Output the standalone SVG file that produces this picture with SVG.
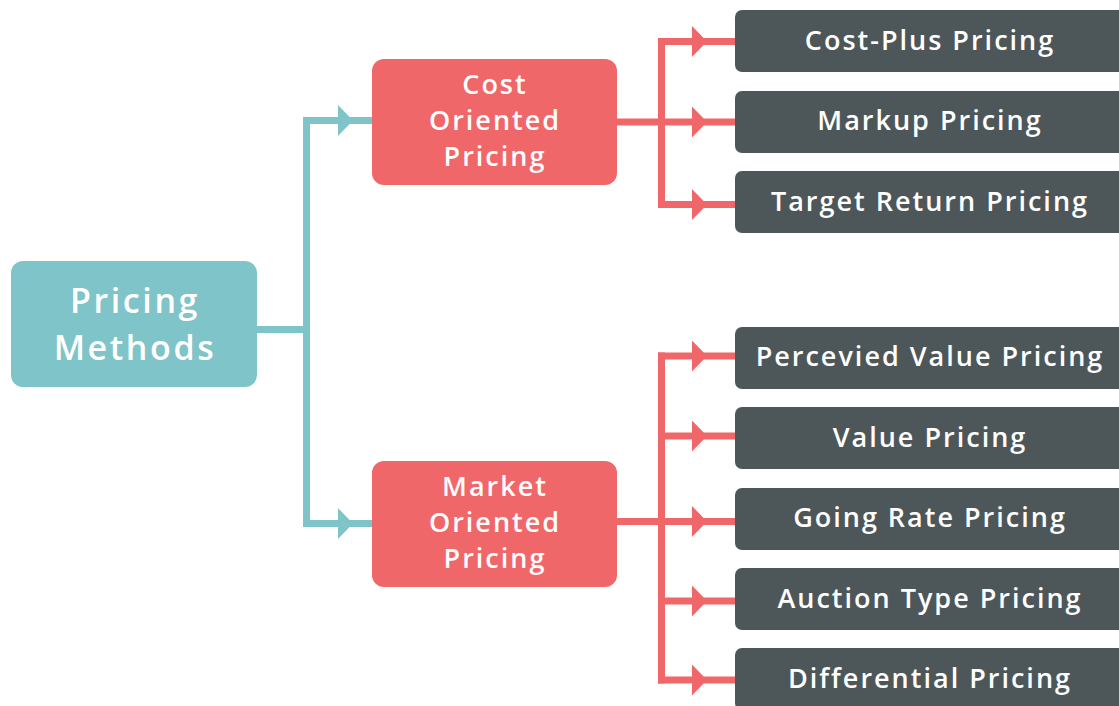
<svg xmlns="http://www.w3.org/2000/svg" width="1119" height="706" viewBox="0 0 1119 706">
  <defs>
    <style>
      .root { fill: #7fc4c9; }
      .group { fill: #f0676a; }
      .leaf { fill: #4d5759; }
      .label { fill: #ffffff; font-family: "Open Sans", "Liberation Sans", sans-serif; font-weight: 600; text-anchor: middle; }
      .big { font-size: 34px; letter-spacing: 2.6px; }
      .mid { font-size: 27px; letter-spacing: 2px; }
      .teal-line { stroke: #7fc4c9; stroke-width: 7; fill: none; }
      .red-line { stroke: #f0676a; stroke-width: 7; fill: none; }
      .teal-arrow { marker-mid: url(#arrowTeal); }
      .red-arrow { marker-mid: url(#arrowRed); }
    </style>
    <marker id="arrowTeal" markerUnits="userSpaceOnUse" markerWidth="16" markerHeight="32" refX="15" refY="15.5" orient="auto" viewBox="0 0 16 32">
      <path d="M0 0 L15 15.5 L0 31 Z" fill="#7fc4c9"/>
    </marker>
    <marker id="arrowRed" markerUnits="userSpaceOnUse" markerWidth="16" markerHeight="32" refX="15" refY="15.5" orient="auto" viewBox="0 0 16 32">
      <path d="M0 0 L15 15.5 L0 31 Z" fill="#f0676a"/>
    </marker>
  </defs>

  <rect width="1119" height="706" fill="#ffffff"/>

  <!-- connectors -->
  <g id="connectors">
    <path class="teal-line" d="M257 329.5 H306.5 M306.5 117 V527"/>
    <path class="teal-line teal-arrow" d="M303 120.5 L353 120.5 L372 120.5"/>
    <path class="teal-line teal-arrow" d="M303 523.5 L353 523.5 L372 523.5"/>

    <path class="red-line" d="M616 122 H661.5 M661.5 38 V208"/>
    <path class="red-line red-arrow" d="M658 41.5 L707 41.5 L735 41.5"/>
    <path class="red-line red-arrow" d="M658 122 L707 122 L735 122"/>
    <path class="red-line red-arrow" d="M658 204.5 L707 204.5 L735 204.5"/>

    <path class="red-line" d="M616 521.5 H661.5 M661.5 352.5 V683.5"/>
    <path class="red-line red-arrow" d="M658 356 L707 356 L735 356"/>
    <path class="red-line red-arrow" d="M658 436 L707 436 L735 436"/>
    <path class="red-line red-arrow" d="M658 521.5 L707 521.5 L735 521.5"/>
    <path class="red-line red-arrow" d="M658 601 L707 601 L735 601"/>
    <path class="red-line red-arrow" d="M658 680 L707 680 L735 680"/>
  </g>

  <!-- root -->
  <g id="pricing-methods">
    <rect class="root" x="11" y="261" width="246" height="126" rx="12"/>
    <text class="label big" x="135" y="313">Pricing</text>
    <text class="label big" x="135" y="360">Methods</text>
  </g>

  <!-- method groups -->
  <g id="cost-oriented">
    <rect class="group" x="372" y="59" width="245" height="126" rx="12"/>
    <text class="label mid" x="495" y="94">Cost</text>
    <text class="label mid" x="495" y="130">Oriented</text>
    <text class="label mid" x="495" y="166">Pricing</text>
  </g>
  <g id="market-oriented">
    <rect class="group" x="372" y="461" width="245" height="126" rx="12"/>
    <text class="label mid" x="495" y="496">Market</text>
    <text class="label mid" x="495" y="532">Oriented</text>
    <text class="label mid" x="495" y="568">Pricing</text>
  </g>

  <!-- leaf methods -->
  <g id="cost-plus">
    <rect class="leaf" x="735" y="10" width="400" height="62" rx="7"/>
    <text class="label mid" x="930" y="50">Cost-Plus Pricing</text>
  </g>
  <g id="markup">
    <rect class="leaf" x="735" y="91" width="400" height="62" rx="7"/>
    <text class="label mid" x="930" y="130">Markup Pricing</text>
  </g>
  <g id="target-return">
    <rect class="leaf" x="735" y="171" width="400" height="62" rx="7"/>
    <text class="label mid" x="930" y="211">Target Return Pricing</text>
  </g>
  <g id="perceived-value">
    <rect class="leaf" x="735" y="327" width="400" height="62" rx="7"/>
    <text class="label mid" x="930" y="366">Percevied Value Pricing</text>
  </g>
  <g id="value">
    <rect class="leaf" x="735" y="407" width="400" height="62" rx="7"/>
    <text class="label mid" x="930" y="447">Value Pricing</text>
  </g>
  <g id="going-rate">
    <rect class="leaf" x="735" y="488" width="400" height="62" rx="7"/>
    <text class="label mid" x="930" y="527">Going Rate Pricing</text>
  </g>
  <g id="auction-type">
    <rect class="leaf" x="735" y="568" width="400" height="62" rx="7"/>
    <text class="label mid" x="930" y="608">Auction Type Pricing</text>
  </g>
  <g id="differential">
    <rect class="leaf" x="735" y="648" width="400" height="62" rx="7"/>
    <text class="label mid" x="930" y="688">Differential Pricing</text>
  </g>
</svg>
